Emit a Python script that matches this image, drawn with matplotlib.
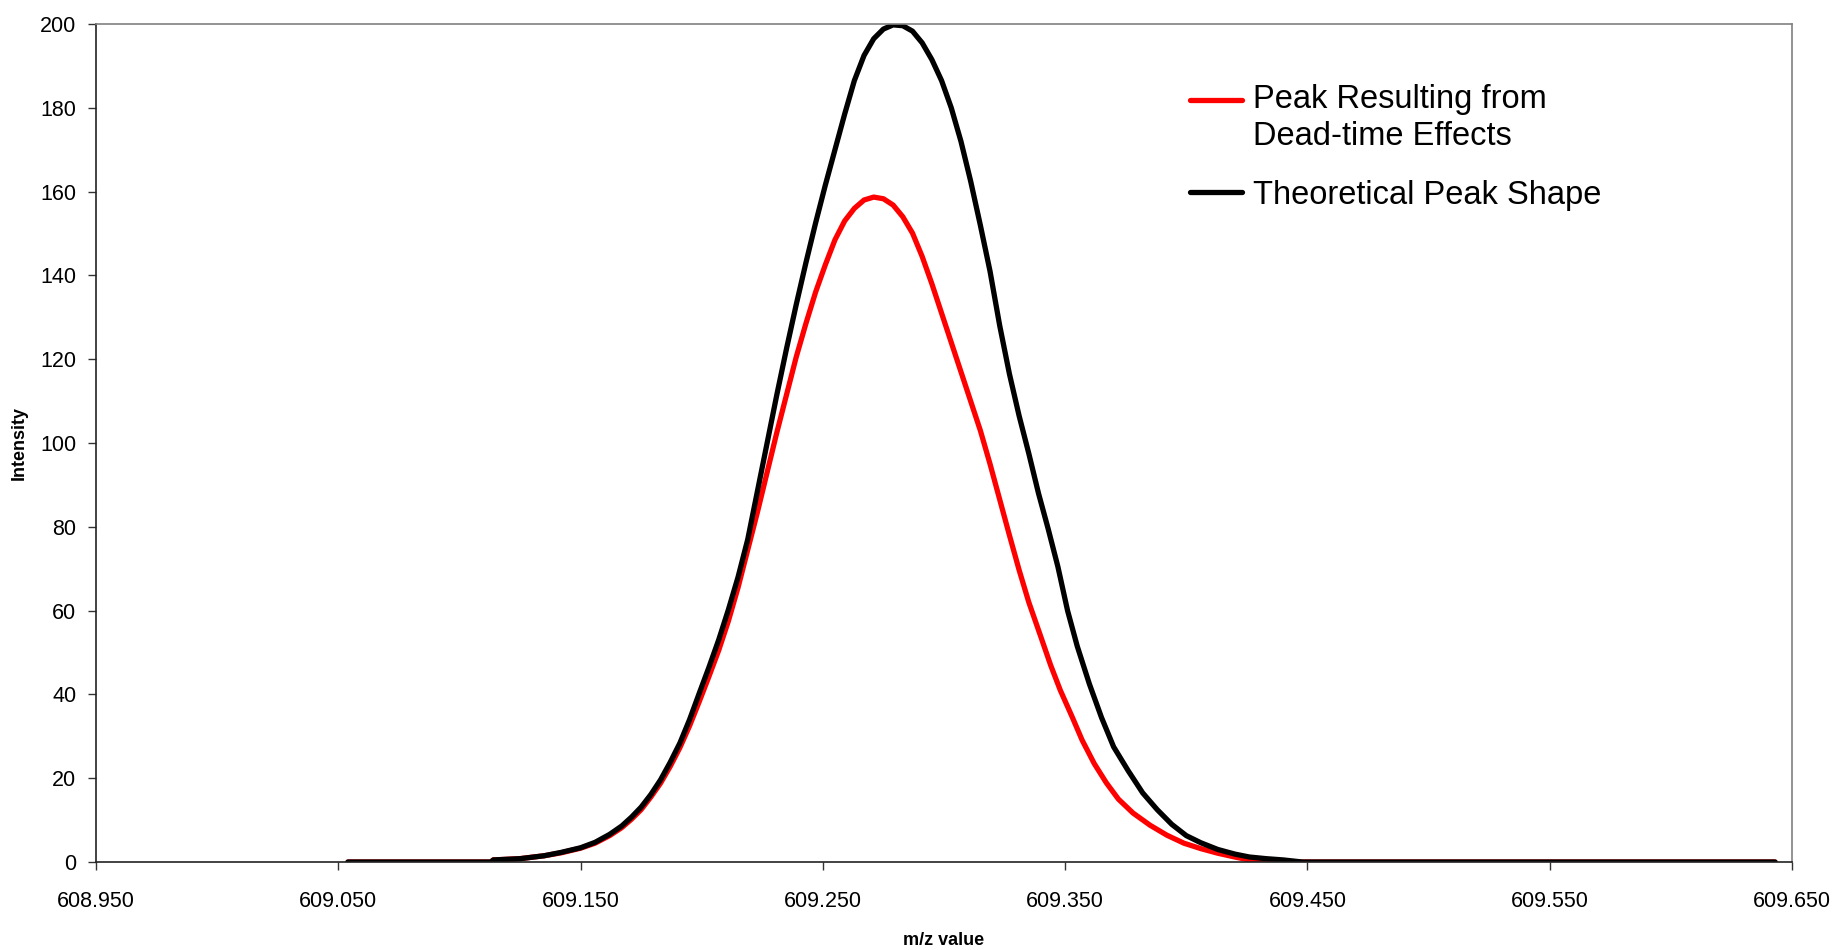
import numpy as np
import matplotlib.pyplot as plt
from matplotlib.legend_handler import HandlerLine2D

plt.rcParams['font.family'] = ['Liberation Sans', 'DejaVu Sans']

# readings
mz_theory = [609.054, 609.113, 609.114, 609.125, 609.135, 609.142, 609.150, 609.156,
             609.162, 609.167, 609.171, 609.175, 609.179, 609.183, 609.187, 609.191,
             609.195, 609.199, 609.203, 609.207, 609.211, 609.215, 609.219, 609.223,
             609.227, 609.231, 609.235, 609.239, 609.243, 609.247, 609.251, 609.255,
             609.259, 609.263, 609.267, 609.271, 609.275, 609.279, 609.283, 609.287,
             609.291, 609.295, 609.299, 609.303, 609.307, 609.311, 609.315, 609.319,
             609.323, 609.327, 609.331, 609.335, 609.339, 609.343, 609.347, 609.351,
             609.355, 609.360, 609.365, 609.370, 609.376, 609.382, 609.388, 609.394,
             609.400, 609.406, 609.413, 609.420, 609.426, 609.433, 609.440, 609.448,
             609.643]
int_theory = [0, 0, 0.5, 0.8, 1.5, 2.3, 3.4, 4.7,
              6.6, 8.6, 10.7, 13.1, 16.1, 19.6, 23.8, 28.4,
              34.0, 40.3, 46.5, 53.0, 60.2, 68.0, 77.0, 88.5,
              100.0, 111.5, 122.5, 133.0, 143.0, 152.5, 161.5, 170.0,
              178.5, 186.5, 192.5, 196.5, 198.8, 199.8, 199.6, 198.3,
              195.5, 191.5, 186.5, 180.0, 172.0, 162.5, 152.0, 141.0,
              128.0, 116.5, 106.5, 97.5, 88.0, 79.5, 70.5, 60.0,
              51.5, 42.5, 34.5, 27.5, 21.8, 16.5, 12.5, 9.0,
              6.3, 4.6, 3.0, 1.9, 1.2, 0.8, 0.5, 0,
              0]

mz_dead = [609.054, 609.113, 609.114, 609.125, 609.135, 609.142, 609.150, 609.156,
           609.162, 609.167, 609.171, 609.175, 609.179, 609.183, 609.187, 609.191,
           609.195, 609.199, 609.203, 609.207, 609.211, 609.215, 609.219, 609.223,
           609.227, 609.231, 609.235, 609.239, 609.243, 609.247, 609.251, 609.255,
           609.259, 609.263, 609.267, 609.271, 609.275, 609.279, 609.283, 609.287,
           609.291, 609.295, 609.299, 609.303, 609.307, 609.311, 609.315, 609.319,
           609.323, 609.327, 609.331, 609.335, 609.340, 609.344, 609.348, 609.353,
           609.357, 609.362, 609.367, 609.372, 609.378, 609.385, 609.392, 609.399,
           609.406, 609.413, 609.420, 609.426, 609.435, 609.444, 609.643]
int_dead = [0, 0, 0.5, 0.8, 1.5, 2.2, 3.3, 4.5,
            6.3, 8.2, 10.2, 12.5, 15.5, 18.8, 22.8, 27.3,
            32.5, 38.3, 44.3, 50.5, 57.5, 65.5, 74.5, 83.5,
            93.0, 102.5, 111.5, 120.5, 128.5, 136.0, 142.5, 148.5,
            153.0, 156.0, 158.0, 158.7, 158.3, 156.8, 154.0, 150.1,
            144.5, 138.0, 131.0, 124.0, 117.0, 110.0, 103.0, 95.0,
            86.5, 78.0, 69.7, 62.0, 53.7, 47.0, 41.0, 34.5,
            29.1, 23.5, 18.9, 15.0, 11.7, 8.8, 6.4, 4.5,
            3.2, 2.1, 1.2, 0.5, 0.2, 0, 0]

labels = ['Peak Resulting from\nDead-time Effects', 'Theoretical Peak Shape']
xticks = np.arange(608.95, 609.651, 0.1)
yticks = np.arange(0, 201, 20)


class TopLine(HandlerLine2D):
    # Excel puts the legend key next to the first text line
    def create_artists(self, legend, orig_handle, xdescent, ydescent,
                       width, height, fontsize, trans):
        arts = super().create_artists(legend, orig_handle, xdescent, ydescent,
                                      width, height, fontsize, trans)
        if '\n' in orig_handle.get_label():
            for a in arts:
                a.set_ydata(np.asarray(a.get_ydata()) + 0.56 * fontsize)
        return arts


fig = plt.figure(figsize=(18.38, 9.5), dpi=100)
ax = fig.add_axes([0.0522, 0.0926, 0.9228, 0.8821])

ax.plot(mz_dead, int_dead, color='#ff0000', lw=3.8, solid_capstyle='round',
        solid_joinstyle='round', label=labels[0])
ax.plot(mz_theory, int_theory, color='black', lw=3.8, solid_capstyle='round',
        solid_joinstyle='round', label=labels[1])

ax.set_xlim(608.95, 609.65)
ax.set_ylim(0, 200)
ax.set_xticks(xticks)
ax.set_xticklabels(['%.3f' % v for v in xticks])
ax.set_yticks(yticks)
ax.tick_params(axis='both', direction='out', length=6, width=1, labelsize=15.5,
               color='#333333')
ax.tick_params(axis='y', pad=8)
ax.tick_params(axis='x', pad=15)

for s in ['left', 'bottom']:
    ax.spines[s].set_color('#222222')
    ax.spines[s].set_linewidth(1.2)
for s in ['top', 'right']:
    ax.spines[s].set_color('#808080')
    ax.spines[s].set_linewidth(1.2)

ax.set_xlabel('m/z value', fontsize=13, fontweight='bold', labelpad=14)
ax.set_ylabel('Intensity', fontsize=13, fontweight='bold', labelpad=9)

leg = ax.legend(loc='upper left', bbox_to_anchor=(0.645, 0.928), frameon=False,
                fontsize=23.5, handlelength=1.6, handletextpad=0.34, borderpad=0,
                borderaxespad=0, labelspacing=0.86,
                handler_map={plt.Line2D: TopLine()})
for t in leg.get_texts():
    t.set_linespacing(1.22)

fig.savefig('out.png', dpi=100)
